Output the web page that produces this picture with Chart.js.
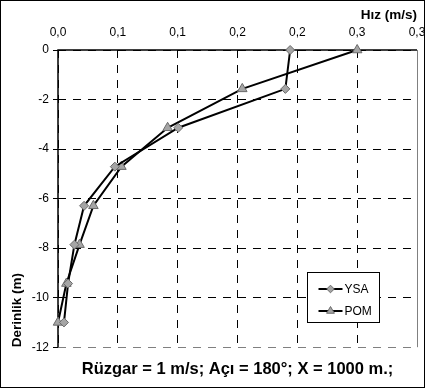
<!DOCTYPE html>
<html>
<head>
<meta charset="utf-8">
<title>Derinlik - Hız profili</title>
<script src="https://cdn.jsdelivr.net/npm/chart.js"></script>
<style>
  body { margin: 0; background: #fff; }
  canvas { display: block; }
</style>
</head>
<body>
<canvas id="hizChart" width="425" height="388"></canvas>

<script>
    // Derinlik seviyeleri (m)
    var derinlik = [0, -1.57, -3.14, -4.71, -6.29, -7.86, -9.43, -11];
    // Hız değerleri (m/s)
    var ysaHiz = [0.194, 0.190, 0.1005, 0.0475, 0.0218, 0.0137, 0.0084, 0.005];
    var pomHiz = [0.25, 0.154, 0.0916, 0.053, 0.0296, 0.018, 0.007, 0.0];
    // Eksen etiketleri (Excel'deki gibi tek ondalık)
    var xEtiketler = ["0,0", "0,1", "0,1", "0,2", "0,2", "0,3", "0,3"];
    var yEtiketler = ["-12", "-10", "-8", "-6", "-4", "-2", "0"];

    Chart.defaults.font.family = "'Liberation Sans', Arial, sans-serif";
    Chart.defaults.color = "#000";

    function noktalar(hiz) {
        return hiz.map(function (v, i) { return { x: v, y: derinlik[i] }; });
    }

    // Çerçeve ve arka plan
    var cerceve = {
        id: "cerceve",
        beforeDraw: function (chart) {
            var ctx = chart.ctx;
            ctx.save();
            ctx.fillStyle = "#fff";
            ctx.fillRect(0, 0, chart.width, chart.height);
            ctx.restore();
        },
        beforeDatasetsDraw: function (chart) {
            var a = chart.chartArea, ctx = chart.ctx;
            ctx.save();
            ctx.setLineDash([]);
            ctx.strokeStyle = "#808080";
            ctx.lineWidth = 1;
            ctx.beginPath();
            ctx.moveTo(a.right + 0.5, a.top);
            ctx.lineTo(a.right + 0.5, a.bottom);
            ctx.stroke();
            ctx.strokeStyle = "#000";
            ctx.lineWidth = 1.5;
            ctx.beginPath();
            ctx.moveTo(a.left, a.bottom);
            ctx.lineTo(a.left, a.top);
            ctx.lineTo(a.right, a.top);
            ctx.stroke();
            ctx.restore();
        },
        afterDraw: function (chart) {
            var ctx = chart.ctx;
            ctx.save();
            ctx.strokeStyle = "#000";
            ctx.lineWidth = 1;
            ctx.strokeRect(0.5, 0.5, chart.width - 1, chart.height - 1);
            ctx.restore();
        }
    };

    // Grafik içindeki gösterge kutusu
    var icGosterge = {
        id: "icGosterge",
        afterDraw: function (chart) {
            var ctx = chart.ctx, a = chart.chartArea;
            var x = Math.round(a.right - 110) + 0.5, y = Math.round(a.bottom - 75) + 0.5;
            var w = 72, h = 50;
            ctx.save();
            ctx.fillStyle = "#fff";
            ctx.fillRect(x, y, w, h);
            ctx.strokeStyle = "#000";
            ctx.lineWidth = 1;
            ctx.strokeRect(x, y, w, h);
            chart.data.datasets.forEach(function (ds, i) {
                var cy = y + 16.5 + i * 22;
                ctx.beginPath();
                ctx.moveTo(x + 11, cy);
                ctx.lineTo(x + 35, cy);
                ctx.lineWidth = ds.borderWidth;
                ctx.strokeStyle = ds.borderColor;
                ctx.stroke();
                ctx.fillStyle = ds.pointBackgroundColor;
                ctx.strokeStyle = ds.pointBorderColor;
                ctx.lineWidth = 1;
                Chart.helpers.drawPoint(ctx, {
                    pointStyle: ds.pointStyle, rotation: 0, borderWidth: 1,
                    radius: ds.pointStyle === "triangle" ? 4.5 : 3.8
                }, x + 23, cy);
                ctx.fillStyle = "#000";
                ctx.font = "12px 'Liberation Sans', Arial, sans-serif";
                ctx.textBaseline = "middle";
                ctx.fillText(ds.label, x + 37, cy + 0.5);
            });
            ctx.restore();
        }
    };

    var ctx = document.getElementById("hizChart").getContext("2d");

    var chart = new Chart(ctx, {
        type: "scatter",
        data: {
            datasets: [{
                label: "YSA",
                data: noktalar(ysaHiz),
                showLine: true,
                borderColor: "#000",
                borderWidth: 2,
                pointStyle: "rectRot",
                pointRadius: 4.5,
                pointHoverRadius: 4.5,
                pointBackgroundColor: "#a5a5a5",
                pointBorderColor: "#6b6b6b",
                pointBorderWidth: 1,
                clip: false
            }, {
                label: "POM",
                data: noktalar(pomHiz),
                showLine: true,
                borderColor: "#000",
                borderWidth: 2,
                pointStyle: "triangle",
                pointRadius: 5.5,
                pointHoverRadius: 5.5,
                pointBackgroundColor: "#a5a5a5",
                pointBorderColor: "#6b6b6b",
                pointBorderWidth: 1,
                clip: false
            }]
        },
        options: {
            responsive: false,
            animation: false,
            layout: { padding: { left: 0, right: 8, top: 0, bottom: 0 } },
            plugins: {
                legend: { display: false },
                tooltip: { enabled: false },
                title: {
                    display: true,
                    position: "bottom",
                    fullSize: false,
                    text: "Rüzgar = 1 m/s; Açı = 180°; X = 1000 m.;",
                    color: "#000",
                    font: { size: 16.5, weight: "bold" },
                    padding: { top: 12, bottom: 9 }
                }
            },
            scales: {
                x: {
                    type: "linear",
                    position: "top",
                    min: 0,
                    max: 0.3,
                    ticks: {
                        stepSize: 0.05,
                        padding: 10,
                        font: { size: 12 },
                        callback: function (v, i) { return xEtiketler[i]; }
                    },
                    grid: { color: "#000", lineWidth: 1, drawTicks: false },
                    border: { display: false, dash: [8, 7] },
                    title: {
                        display: true,
                        text: "Hız (m/s)",
                        align: "end",
                        font: { size: 13.5, weight: "bold" },
                        padding: { top: 7, bottom: 0 }
                    },
                    afterFit: function (s) {
                        s.height = 50;
                        s.paddingLeft = 0;
                        s.paddingRight = 0;
                    }
                },
                y: {
                    type: "linear",
                    min: -12,
                    max: 0,
                    ticks: {
                        stepSize: 2,
                        padding: 4,
                        font: { size: 12 },
                        callback: function (v, i) { return yEtiketler[i]; }
                    },
                    grid: {
                        color: function (c) { return c.tick && c.tick.value === -12 ? "#808080" : "#000"; },
                        tickColor: "#000",
                        tickLength: 5,
                        lineWidth: 1
                    },
                    border: { display: false, dash: [8, 7] },
                    title: {
                        display: true,
                        text: "Derinlik (m)",
                        align: "start",
                        font: { size: 13.5, weight: "bold" },
                        padding: { top: 9.5, bottom: 0 }
                    },
                    afterFit: function (s) { s.width = 58; }
                }
            }
        },
        plugins: [cerceve, icGosterge]
    });
</script>
</body>
</html>
